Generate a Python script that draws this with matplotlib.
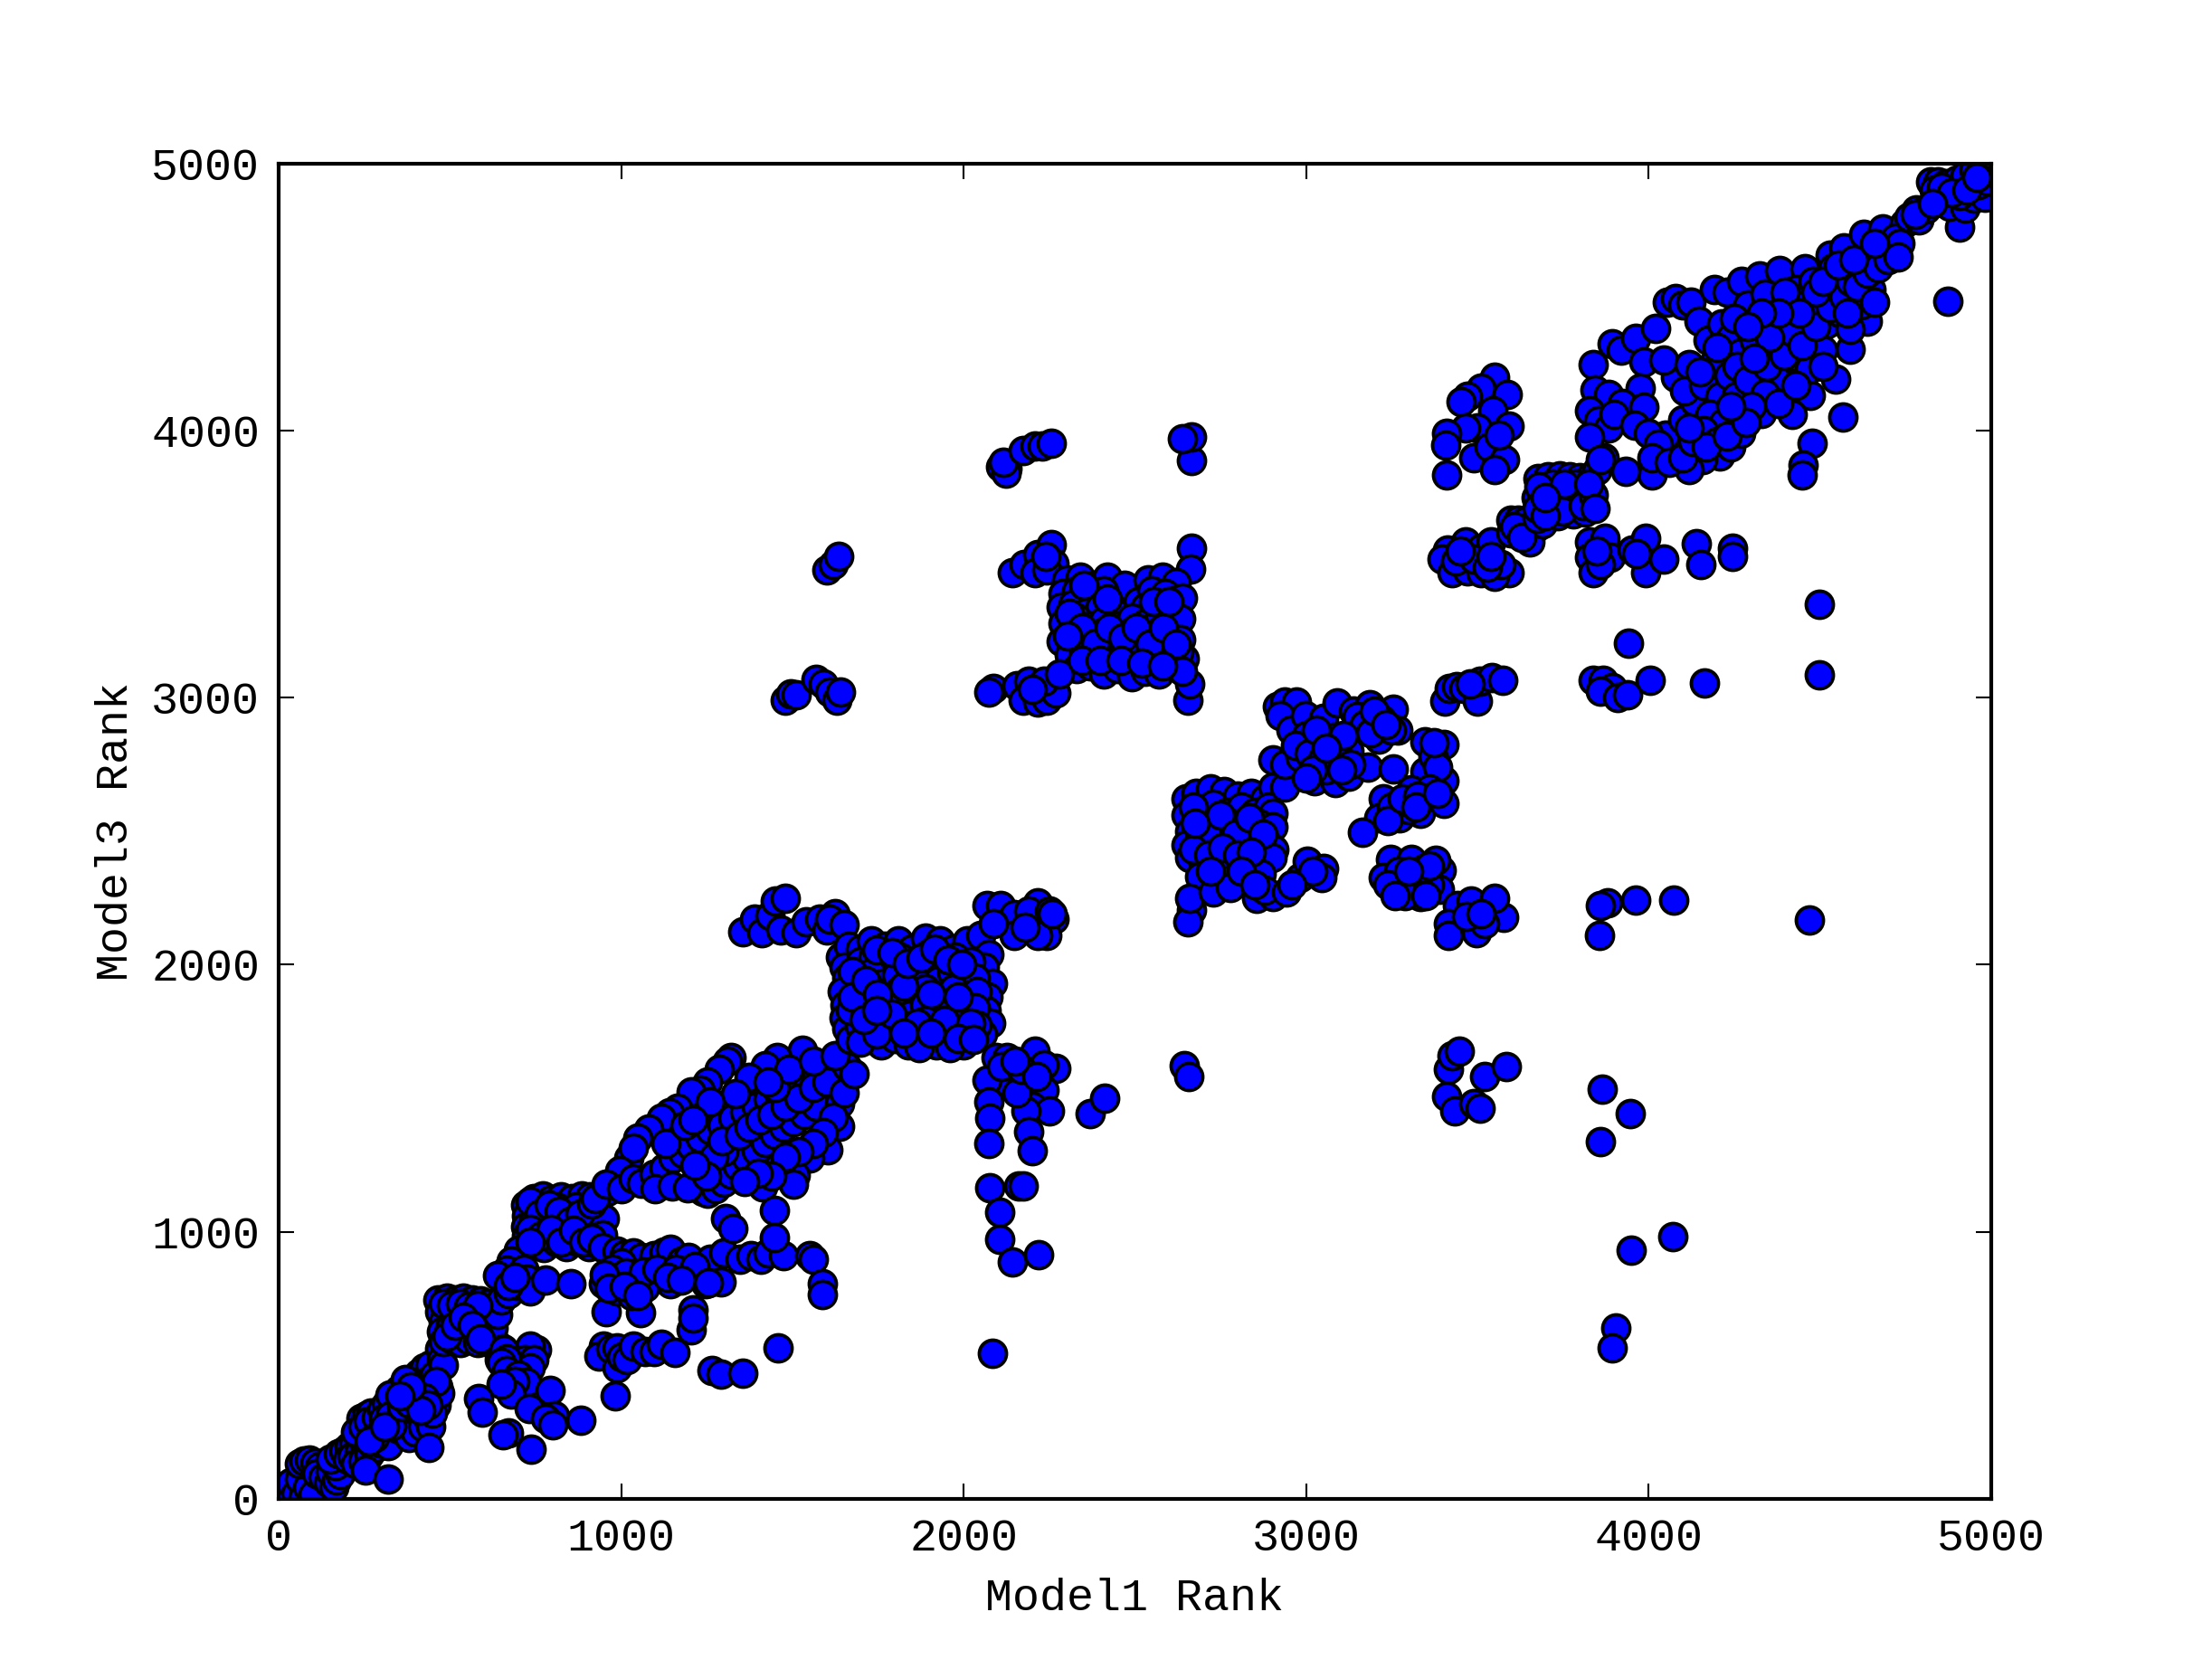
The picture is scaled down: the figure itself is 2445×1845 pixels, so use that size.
import matplotlib
matplotlib.use("Agg")
import matplotlib.pyplot as plt

start_band = [
    (8, 8), (20, 35), (35, 60), (50, 20), (60, 75), (70, 5), (85, 45), (100, 15), (60, 130), (75, 140),
    (90, 145), (105, 135), (120, 120), (110, 95), (130, 80), (145, 60), (160, 45), (150, 100), (170, 70), (180, 90),
    (165, 125), (150, 150), (175, 170), (190, 180), (205, 195), (220, 205), (200, 150), (215, 160), (235, 175), (250, 195),
    (225, 130), (245, 140), (265, 165), (280, 190), (240, 300), (255, 310), (270, 320), (235, 240), (255, 255), (275, 270),
    (290, 285), (300, 230), (315, 250), (295, 210), (320, 200), (253, 108), (320, 75), (335, 380), (350, 410), (365, 425),
    (330, 340), (345, 355), (365, 370), (385, 390), (345, 300), (365, 310), (385, 330), (405, 350), (350, 260), (370, 270),
    (390, 290), (410, 300), (380, 230), (400, 250), (420, 270), (430, 310), (395, 450), (410, 470), (425, 490), (440, 500),
    (400, 410), (420, 430), (440, 445), (455, 465), (445, 400), (455, 380), (460, 350), (445, 270), (450, 320), (439, 192),
    (470, 560), (475, 520), (480, 500), (465, 420), (470, 395), (460, 440),
    (225, 250), (245, 270), (262, 290), (285, 305), (300, 335), (315, 355), (325, 390), (305, 300), (325, 310), (280, 230),
    (265, 215), (330, 275), (310, 270), (375, 395), (360, 345), (380, 360), (425, 380), (435, 350), (415, 330), (370, 445),
    (385, 420), (355, 385),
]

block_a = [
    (465, 745), (490, 750), (515, 745), (540, 750), (565, 745), (590, 740), (610, 730), (470, 700), (495, 715), (520, 695),
    (545, 710), (570, 690), (595, 705), (480, 665), (505, 680), (530, 655), (555, 670), (580, 650), (605, 665), (475, 625),
    (500, 640), (525, 620), (550, 635), (575, 615), (600, 625), (480, 590), (505, 600), (530, 585), (555, 595), (580, 585),
    (605, 590), (625, 600), (640, 575), (625, 640), (645, 520), (655, 560), (640, 690), (650, 745), (670, 770), (695, 800),
    (480, 730), (505, 725), (530, 730), (555, 720), (580, 725), (490, 610), (515, 650), (540, 680), (565, 650), (590, 600),
]

block_a_below = [
    (752, 558), (733, 573), (719, 520), (745, 520), (735, 490), (658, 558), (665, 525), (651, 512), (665, 480), (700, 465),
    (725, 437), (690, 440), (678, 391), (651, 429), (793, 407), (732, 339), (806, 311), (779, 301), (800, 278), (881, 293),
    (584, 376), (594, 323), (671, 248), (655, 241), (736, 185),
]

block_b = [
    (720, 1100), (745, 1125), (770, 1135), (795, 1120), (825, 1130), (855, 1125), (885, 1135), (910, 1130), (725, 1060), (750, 1090),
    (780, 1075), (810, 1095), (840, 1065), (870, 1095), (900, 1065), (930, 1090), (720, 1020), (745, 1040), (775, 1025), (805, 1045),
    (835, 1020), (865, 1050), (895, 1020), (920, 1045), (725, 985), (750, 1000), (785, 980), (815, 1005), (845, 985), (875, 1005),
    (900, 985), (930, 1000), (745, 950), (775, 940), (810, 960), (840, 945), (870, 965), (905, 945), (930, 955), (950, 1050),
    (945, 990), (960, 1150), (985, 1175), (700, 930), (680, 890), (665, 855), (640, 835), (715, 860), (726, 822), (733, 777),
    (780, 819), (854, 807), (670, 800), (690, 830),
    (735, 1115), (760, 1065), (790, 1100), (820, 1075), (850, 1040), (880, 1065), (915, 1105), (735, 1010), (765, 985), (795, 1010),
    (825, 960), (860, 1005), (890, 960), (915, 975), (735, 960), (945, 940), (925, 1125),
]

row_900 = [
    (989, 927), (1010, 915), (1036, 920), (1060, 905), (1097, 912), (1125, 925), (1144, 935), (1175, 890), (1198, 905), (1259, 897),
    (1300, 920), (1347, 897), (1380, 910), (1408, 897), (1430, 920), (1473, 909), (1550, 912), (1560, 897), (1587, 807), (1587, 764),
    (1293, 814), (1246, 807), (1144, 807), (1198, 837), (1211, 709), (1205, 633), (1211, 678), (1056, 698), (955, 701), (1070, 792),
    (1036, 822), (989, 777), (948, 807), (1002, 882), (1029, 761), (975, 860), (1015, 845), (1065, 850), (1105, 860), (1160, 860),
    (1215, 870), (950, 840), (965, 790), (1010, 795), (1050, 760), (1135, 830), (1175, 820), (1255, 810),
]

row_550 = [
    (948, 573), (935, 535), (970, 560), (989, 565), (989, 490), (1000, 530), (1016, 520), (1036, 573), (1070, 550), (1095, 550),
    (1117, 580), (1158, 547), (982, 384), (1458, 565), (1266, 482), (1293, 467), (1354, 470),
]

streaks = [
    (1320, 1652), (1310, 1640), (1286, 1607), (1252, 1562), (1230, 1530), (1205, 1524), (1165, 1464), (1140, 1445), (1117, 1426), (1080, 1385),
    (1050, 1350), (1023, 1275), (1035, 1315), (996, 1230), (955, 1177), (1000, 1160), (1036, 1199), (1060, 1180), (1097, 1214), (1125, 1240),
    (1151, 1275), (1180, 1295), (1205, 1320), (1230, 1350), (1259, 1380), (1295, 1400), (1327, 1426), (1360, 1450), (1394, 1471), (1430, 1495),
    (1462, 1516), (1500, 1545), (1543, 1577), (1570, 1600), (1597, 1622), (1240, 1150), (1252, 1146), (1275, 1160), (1300, 1184), (1320, 1215),
    (1340, 1245), (1365, 1275), (1394, 1305), (1420, 1335), (1448, 1365), (1475, 1390), (1502, 1411), (1535, 1440), (1570, 1471), (1637, 1479),
    (1637, 1396), (1603, 1308), (1550, 1275), (1509, 1211), (1462, 1245), (1502, 1177), (1414, 1169), (1448, 1079), (1448, 980), (1306, 1048),
    (1327, 1011), (1529, 1680), (1455, 1652), (1422, 1622), (1374, 1577), (1333, 1516), (1259, 1486), (1300, 1300), (1270, 1280), (1295, 1340),
    (1345, 1360), (1375, 1390), (1405, 1420), (1440, 1440), (1480, 1470), (1520, 1500), (1560, 1540), (1600, 1560), (1620, 1430), (1590, 1370),
    (1560, 1330), (1520, 1300), (1480, 1280), (1440, 1210), (1400, 1220), (1360, 1190), (1100, 1160), (1150, 1170), (1195, 1165), (1250, 1210),
    (1215, 1250), (1450, 1540), (1490, 1610), (1430, 1560), (1560, 1640), (1650, 1520), (1130, 1330), (1185, 1400), (1210, 1420), (1660, 1620),
    (1680, 1590), (1625, 1660),
]

left_of_main = [
    (1355, 2125), (1390, 2170), (1410, 2120), (1435, 2185), (1450, 2240), (1465, 2130), (1480, 2250), (1510, 2120), (1540, 2160), (1580, 2170),
    (1600, 2130), (1625, 2190), (1610, 2170), (1650, 2150), (1640, 2030), (1665, 2070),
]

main_block = [
    (1650, 1990), (1660, 1950), (1645, 1900), (1655, 1850), (1650, 1800), (1660, 1760), (1670, 1720), (1700, 2060), (1730, 2090), (1770, 2070),
    (1810, 2090), (1850, 2060), (1890, 2100), (1930, 2090), (1970, 2060), (2010, 2090), (2050, 2110), (2075, 2040), (2060, 1990), (2085, 1930),
    (2070, 1880), (2065, 1830), (2080, 1780), (2055, 1740), (1700, 2010), (1735, 2030), (1775, 1990), (1815, 2030), (1855, 1990), (1895, 2040),
    (1935, 2000), (1975, 2030), (2020, 2010), (1690, 1950), (1730, 1970), (1765, 1930), (1805, 1960), (1845, 1930), (1885, 1970), (1925, 1940),
    (1965, 1970), (2005, 1940), (2035, 1950), (1695, 1890), (1730, 1910), (1770, 1870), (1810, 1900), (1850, 1870), (1890, 1910), (1930, 1880),
    (1970, 1910), (2010, 1880), (2040, 1900), (1690, 1830), (1725, 1850), (1765, 1810), (1805, 1840), (1845, 1810), (1885, 1850), (1925, 1820),
    (1965, 1850), (2005, 1820), (2035, 1840), (1695, 1770), (1730, 1790), (1770, 1750), (1810, 1780), (1850, 1750), (1890, 1790), (1930, 1760),
    (1970, 1790), (2010, 1760), (2040, 1775), (1720, 1720), (1760, 1700), (1800, 1725), (1840, 1700), (1880, 1730), (1920, 1700), (1960, 1735),
    (2000, 1700), (1700, 1710), (1745, 1740), (1870, 1690), (1960, 1690),
    (1675, 1975), (1670, 1830), (1675, 1880), (1715, 1940), (1750, 1890), (1790, 1815), (1825, 1920), (1865, 1780), (1905, 1890), (1945, 1790),
    (1985, 1880), (2020, 1780), (1745, 2055), (1790, 2045), (1835, 2005), (1875, 2025), (1915, 2060), (1955, 2020), (1995, 2000), (1710, 1795),
    (1745, 1830), (1825, 1745), (1905, 1745), (1985, 1725), (2030, 1720),
]

main_right = [
    (2068, 2222), (2108, 2222), (2216, 2231), (2148, 2188), (2190, 2200), (2263, 2170), (2243, 2110), (2148, 2110), (2088, 2153), (2216, 2110),
    (2180, 2140), (2250, 2200), (2260, 2190), (2095, 1652), (2128, 1651), (2209, 1677), (2270, 1613), (2236, 1626), (2155, 1574), (2095, 1565),
    (2068, 1568), (2236, 1530), (2202, 1470), (2250, 1453), (2182, 1453), (2155, 1522), (2074, 1487), (2077, 1427), (2189, 1375), (2202, 1305),
    (2074, 1331), (2371, 1444), (2411, 1501), (2076, 1163), (2105, 1073), (2105, 972), (2162, 1173), (2175, 1173), (2142, 888), (2220, 914),
    (2084, 544), (2110, 1620), (2170, 1610), (2215, 1580), (2150, 1640),
]

block_c_arms = [
    (2108, 3866), (2128, 3857), (2124, 3840), (2115, 3880), (2175, 3926), (2209, 3944), (2229, 3944), (2256, 3952), (2667, 3887), (2667, 3978),
    (2640, 3970), (2142, 3468), (2178, 3499), (2216, 3537), (2256, 3572), (2263, 3503), (2209, 3468), (2243, 3477), (2240, 3530), (2665, 3561),
    (2664, 3482), (2088, 3035), (2074, 3022), (2155, 3044), (2189, 3061), (2175, 2992), (2216, 2984), (2243, 2992), (2270, 3018), (2236, 3061),
    (2200, 3030), (2654, 2992), (2661, 3053), (2645, 3148), (1600, 3480), (1620, 3500), (1635, 3530), (1480, 2990), (1495, 3015), (1510, 3010),
    (1570, 3070), (1590, 3050), (1610, 3020), (1630, 2990), (1640, 3020),
]

block_c = [
    (2300, 3440), (2340, 3450), (2380, 3420), (2420, 3450), (2470, 3420), (2510, 3360), (2540, 3440), (2580, 3450), (2620, 3430), (2290, 3390),
    (2330, 3400), (2370, 3380), (2410, 3400), (2550, 3400), (2590, 3390), (2630, 3370), (2285, 3340), (2320, 3350), (2360, 3320), (2400, 3340),
    (2440, 3320), (2530, 3340), (2570, 3330), (2610, 3340), (2640, 3373), (2290, 3280), (2330, 3300), (2370, 3270), (2410, 3290), (2450, 3270),
    (2490, 3300), (2530, 3280), (2570, 3290), (2610, 3270), (2634, 3295), (2285, 3210), (2320, 3240), (2360, 3220), (2400, 3240), (2440, 3210),
    (2480, 3240), (2520, 3220), (2560, 3240), (2600, 3210), (2634, 3217), (2310, 3160), (2350, 3170), (2390, 3190), (2430, 3160), (2470, 3190),
    (2510, 3160), (2550, 3180), (2590, 3150), (2630, 3170), (2330, 3110), (2370, 3120), (2410, 3090), (2450, 3110), (2490, 3080), (2530, 3100),
    (2570, 3090), (2610, 3120), (2280, 3090), (2640, 3100),
    (2310, 3315), (2345, 3260), (2385, 3205), (2425, 3260), (2465, 3225), (2505, 3260), (2545, 3200), (2585, 3260), (2620, 3200), (2345, 3140),
    (2400, 3140), (2460, 3140), (2520, 3130), (2580, 3120), (2555, 3360), (2600, 3360), (2350, 3420), (2420, 3370), (2305, 3230),
]

block_d = [
    (2650, 2620), (2680, 2640), (2720, 2660), (2760, 2650), (2800, 2630), (2840, 2640), (2880, 2620), (2903, 2664), (2650, 2560), (2690, 2580),
    (2730, 2600), (2770, 2570), (2810, 2590), (2850, 2570), (2890, 2590), (2903, 2568), (2660, 2500), (2700, 2530), (2740, 2510), (2780, 2530),
    (2820, 2500), (2860, 2530), (2903, 2517), (2650, 2450), (2690, 2470), (2730, 2440), (2770, 2470), (2810, 2440), (2850, 2470), (2890, 2450),
    (2907, 2433), (2660, 2400), (2700, 2380), (2740, 2410), (2780, 2380), (2820, 2410), (2860, 2380), (2900, 2400), (2690, 2330), (2740, 2350),
    (2780, 2320), (2830, 2330), (2870, 2340), (2937, 2664), (2903, 2767), (2937, 2750), (2667, 2205), (2654, 2162), (2661, 2248), (2728, 2274),
    (2780, 2290), (2856, 2248), (2903, 2257), (2880, 2280), (2944, 2274), (2984, 2326), (3005, 2387), (3052, 2361), (3045, 2326), (3020, 2350),
    (2960, 2300),
    (2670, 2590), (2710, 2500), (2750, 2560), (2795, 2490), (2835, 2550), (2875, 2490), (2670, 2430), (2715, 2410), (2755, 2440), (2800, 2410),
    (2840, 2420), (2675, 2530), (2720, 2350), (2810, 2350), (2850, 2300),
]

block_e = [
    (2917, 2966), (2937, 2984), (2971, 2984), (2924, 2932), (2957, 2880), (2998, 2932), (3052, 2923), (3092, 2980), (3139, 2949), (3186, 2975),
    (3254, 2958), (3267, 2880), (3213, 2845), (3126, 2802), (2984, 2776), (3025, 2689), (3085, 2681), (3126, 2707), (3180, 2741), (3254, 2733),
    (3000, 2860), (3040, 2830), (3080, 2850), (2970, 2820), (3010, 2790), (3050, 2770), (3090, 2790), (3130, 2750), (3060, 2730), (3020, 2730),
    (3000, 2700), (3150, 2930), (3170, 2900), (3220, 2920), (3250, 2880), (3190, 2870), (3227, 2620), (3274, 2551), (3213, 2551), (3166, 2496),
    (3335, 2568), (3402, 2603), (3402, 2690), (3402, 2824), (3348, 2836), (3348, 2724), (3308, 2655), (3370, 2780), (3385, 2740), (3360, 2660),
    (3300, 2580), (3250, 2590), (3240, 2540), (3280, 2620),
    (3247, 2395), (3227, 2326), (3308, 2395), (3395, 2352), (3335, 2257), (3389, 2283), (3281, 2283), (3270, 2350), (3240, 2300), (3320, 2320),
    (3360, 2300), (3290, 2260), (3380, 2390),
    (3110, 2860), (3030, 2880), (3060, 2810), (3105, 2730), (3200, 2950), (3235, 2900), (3325, 2630), (3320, 2590), (3385, 2640), (3375, 2830),
    (3345, 2360), (3360, 2370), (3300, 2350), (3350, 2260), (3260, 2260),
]

right_low = [
    (3443, 2222), (3483, 2240), (3577, 2179), (3550, 2248), (3416, 2153), (3416, 2110), (3497, 2119), (3523, 2153), (3470, 2180), (3510, 2190),
    (3881, 2231), (3860, 2222), (3858, 2110), (3962, 2241), (4074, 2241), (4469, 2167), (3415, 1607), (3427, 1660), (3448, 1675), (3411, 1506),
    (3435, 1453), (3489, 1480), (3509, 1464), (3522, 1580), (3584, 1617), (2644, 1622), (2657, 1580), (3864, 1533), (3860, 1337), (3946, 1443),
    (3950, 930), (4070, 983), (3905, 640), (3893, 565),
]

row_3000 = [
    (3406, 2986), (3419, 3034), (3440, 3040), (3460, 3034), (3501, 2986), (3509, 3060), (3542, 3076), (3575, 3065), (3480, 3050), (3839, 3065),
    (3868, 3065), (3893, 3039), (3860, 3023), (3909, 3002), (3938, 3012), (4004, 3065), (4164, 3055), (3942, 3203), (4498, 3351), (4498, 3086),
]

row_3500 = [
    (3552, 4200), (3512, 4158), (3472, 4130), (3454, 4109), (3588, 4134), (3546, 4073), (3592, 4017), (3500, 4010), (3466, 4010), (3412, 3989),
    (3409, 3947), (3489, 3898), (3535, 3940), (3580, 3891), (3552, 3856), (3412, 3835), (3563, 3982),
    (3414, 3554), (3397, 3518), (3426, 3469), (3466, 3582), (3472, 3476), (3512, 3561), (3540, 3582), (3512, 3469), (3592, 3469), (3552, 3455),
    (3569, 3497), (3437, 3511), (3490, 3520), (3450, 3550), (3530, 3490), (3540, 3530), (3827, 3582), (3827, 3525), (3838, 3469), (3872, 3596),
    (3889, 3525), (3860, 3500), (3850, 3550), (3952, 3554), (3993, 3596), (3993, 3469), (3965, 3540), (4044, 3518), (4141, 3575), (4153, 3497),
    (4245, 3561), (4245, 3528),
]

block_f = [
    (3598, 3617), (3620, 3630), (3655, 3610), (3598, 3666), (3620, 3666), (3640, 3660), (3672, 3638), (3655, 3582), (3690, 3650), (3678, 3821),
    (3706, 3828), (3740, 3830), (3769, 3828), (3800, 3825), (3832, 3828), (3672, 3750), (3700, 3780), (3735, 3764), (3769, 3764), (3800, 3780),
    (3821, 3764), (3690, 3710), (3706, 3722), (3735, 3680), (3760, 3710), (3781, 3687), (3815, 3694), (3830, 3730), (3790, 3740), (3720, 3800),
    (3680, 3790), (3861, 3877), (3850, 3850), (3870, 3900),
    (3610, 3640), (3630, 3600), (3675, 3670), (3675, 3710), (3720, 3740), (3750, 3700), (3785, 3800), (3810, 3720), (3840, 3760), (3700, 3680),
    (3755, 3800), (3700, 3750), (3825, 3800), (3845, 3710),
]

fan = [
    (3838, 4249), (3895, 4326), (3920, 4300), (3964, 4347), (4021, 4383), (4056, 4481), (4079, 4495), (4100, 4470), (4124, 4481), (4147, 4411),
    (4193, 4530), (4230, 4520), (4273, 4558), (4325, 4579), (4382, 4600), (4456, 4607), (4531, 4656), (4571, 4685), (4628, 4734), (4685, 4755),
    (4748, 4776), (4783, 4825), (4640, 4411), (4588, 4305), (4548, 4193), (4569, 4050), (4479, 3954), (4451, 3870), (4448, 3835), (4474, 4132),
    (4376, 4123), (4330, 4066), (4262, 4038), (4210, 3905), (4159, 3891), (4119, 3856), (4010, 3835), (3935, 3849), (4050, 3982), (4079, 4200),
    (3987, 4256), (4044, 4263), (4119, 4249), (3844, 4151), (3884, 4137), (3827, 4073), (3855, 4038), (3884, 4010), (3827, 3975), (3861, 3891),
    (3975, 4158), (3924, 4102), (3987, 4088), (3900, 4060), (3960, 4020), (4000, 3990), (4030, 3950), (4010, 3900), (4060, 3880), (4100, 3900),
    (4130, 3960), (4100, 4040), (4135, 4110), (4105, 4150), (4160, 4170), (4190, 4250), (4175, 4340), (4215, 4400), (4240, 4350), (4290, 4470),
    (4270, 4290), (4210, 4130), (4180, 4060), (4220, 4030), (4160, 4000), (4200, 3960), (4240, 3940), (4270, 3990), (4300, 4140), (4320, 4210),
    (4350, 4290), (4310, 4340), (4360, 4400), (4400, 4470), (4340, 4510), (4430, 4530), (4480, 4560), (4410, 4230), (4390, 4180), (4440, 4270),
    (4480, 4340), (4470, 4230), (4520, 4400), (4510, 4300), (4560, 4440), (4600, 4500), (4560, 4560), (4620, 4580), (4650, 4630), (4680, 4660),
    (4620, 4470), (4590, 4380), (4650, 4530), (4700, 4680), (4720, 4720), (4235, 4205), (4260, 4240), (4255, 4130), (4290, 4190), (4280, 4070),
    (4370, 4200), (4340, 4140), (4410, 4340), (4450, 4400), (4380, 4330), (4500, 4480), (4540, 4520), (4420, 4060), (4540, 4610), (4460, 4470),
    (4300, 4090), (4345, 4240), (4395, 4280), (4420, 4370), (4355, 4350), (4450, 4320), (4490, 4390), (4530, 4460), (4570, 4500), (4590, 4560),
    (4610, 4540), (4640, 4590), (4670, 4610), (4700, 4640), (4735, 4700), (4490, 4520), (4510, 4560), (4555, 4620), (4600, 4640), (4660, 4700),
    (4400, 4520), (4440, 4440), (4380, 4440), (4330, 4440), (4250, 4420), (4290, 4390), (4310, 4270), (4380, 4100), (4430, 4170), (4510, 4240),
    (4200, 4310), (4150, 4220), (4170, 3940), (4230, 3980), (4285, 4030), (4120, 4010), (4240, 4090), (4580, 4440), (4660, 4480), (4730, 4650),
]

top_corner = [
    (4760, 4800), (4790, 4790), (4810, 4830), (4823, 4930), (4846, 4930), (4850, 4880), (4870, 4925), (4900, 4940), (4925, 4955), (4950, 4975),
    (4983, 4973), (4875, 4485), (4909, 4762), (4880, 4840), (4926, 4832), (4950, 4870), (4983, 4874), (4965, 4920), (4990, 4935), (4910, 4880),
    (4835, 4900), (4855, 4910), (4885, 4890), (4930, 4900), (4960, 4950), (4780, 4810), (4830, 4850),
]

groups = [
    start_band, block_a, block_a_below, block_b, row_900, row_550, streaks, left_of_main, main_block, main_right,
    block_c_arms, block_c, block_d, block_e, right_low, row_3000, row_3500, block_f, fan, top_corner,
]
model1_rank = [p[0] for g in groups for p in g]
model3_rank = [p[1] for g in groups for p in g]
ticks = [0, 1000, 2000, 3000, 4000, 5000]

plt.rcParams["font.family"] = ["Liberation Mono", "DejaVu Sans Mono"]

fig, ax = plt.subplots(figsize=(8.15, 6.15), dpi=300)
ax.scatter(model1_rank, model3_rank, s=52, c="b", edgecolors="k", linewidths=0.9)
ax.set_xlim(0, 5000)
ax.set_ylim(0, 5000)
ax.set_xticks(ticks)
ax.set_yticks(ticks)
ax.tick_params(direction="in", top=True, right=True, length=4, width=0.5, labelsize=12, pad=5)
for spine in ax.spines.values():
    spine.set_linewidth(1.0)
ax.set_xlabel("Model1 Rank", fontsize=12, labelpad=5)
ax.set_ylabel("Model3 Rank", fontsize=12, labelpad=4)

fig.subplots_adjust(left=0.126, right=0.9, top=0.902, bottom=0.102)
fig.savefig("out.png", dpi=300)
